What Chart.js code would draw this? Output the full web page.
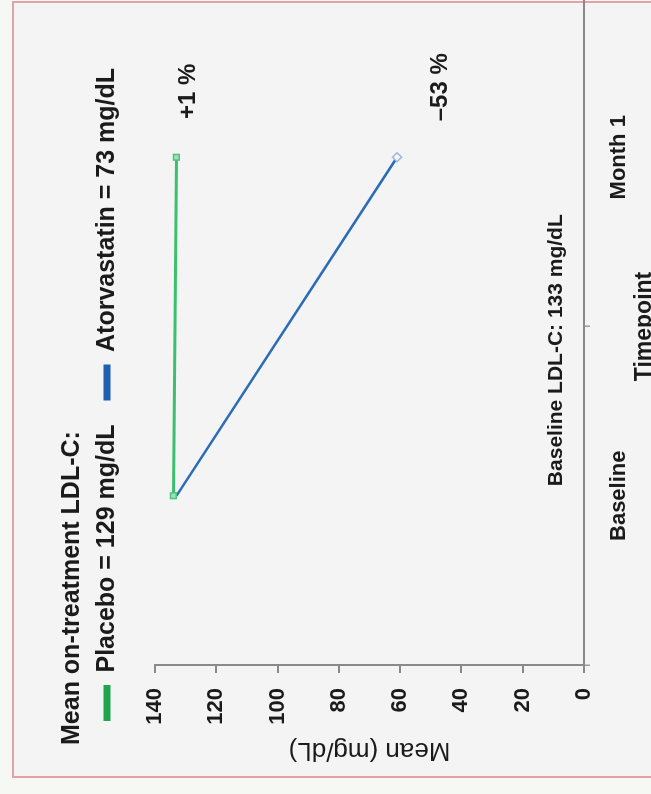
<!DOCTYPE html>
<html lang="en">
<head>
  <meta charset="utf-8">
  <title>Mean LDL-C by timepoint</title>
  <script src="https://cdn.jsdelivr.net/npm/chart.js@4.4.1/dist/chart.umd.min.js"></script>
  <style>
    html, body { margin: 0; padding: 0; width: 651px; height: 794px; overflow: hidden; background: #f6f8f3; }
    /* the figure is laid out landscape, then turned a quarter turn counter-clockwise */
    .turned { position: absolute; left: 0; top: 0; width: 812px; height: 680px;
              transform-origin: 0 0; transform: translateY(794px) rotate(-90deg); }
    .frame { position: absolute; left: 16px; top: 12px; width: 773px; height: 700px;
             border: 2px solid #e3a2a8; background: #f4f4f4; }
    canvas { position: absolute; left: 0; top: 0; }
  </style>
</head>
<body>
  <div class="turned">
    <div class="frame"></div>
    <canvas id="ldlChart" width="812" height="680"></canvas>
  </div>

  <script>
    var timepoints = ['Baseline', 'Month 1'];
    var seriesNames = ['Placebo = 129 mg/dL', 'Atorvastatin = 73 mg/dL'];
    var placeboLdl = [134, 133];
    var atorvastatinLdl = [133, 61];
    var changeLabels = ['+1 %', '\u201353 %'];
    var baselineNote = 'Baseline LDL-C: 133 mg/dL';

    var lineColors = ['#3cbf6e', '#2b6cb6'];
    var legendColors = ['#1fa64c', '#1f5fb2'];
    // where the % labels sit, relative to the Month 1 point
    var changeOffsets = [[66, 12], [70, 43]];

    Chart.defaults.font.family = '"Liberation Sans", Arial, sans-serif';
    Chart.defaults.color = '#1b1b1b';

    var notes = {
      id: 'notes',
      afterDatasetsDraw: function(chart) {
        var ctx = chart.ctx;
        ctx.save();
        ctx.fillStyle = '#1b1b1b';
        ctx.textAlign = 'center';
        ctx.textBaseline = 'middle';
        ctx.font = 'bold 24px "Liberation Sans", Arial, sans-serif';
        changeLabels.forEach(function(txt, i) {
          var pt = chart.getDatasetMeta(i).data[1];
          ctx.fillText(txt, pt.x + changeOffsets[i][0], pt.y + changeOffsets[i][1]);
        });
        ctx.font = 'bold 21px "Liberation Sans", Arial, sans-serif';
        ctx.fillText(baselineNote, chart.scales.x.getPixelForValue(0.43), chart.scales.y.getPixelForValue(9));
        ctx.restore();
      }
    };

    new Chart(document.getElementById('ldlChart').getContext('2d'), {
      type: 'line',
      plugins: [notes],
      data: {
        labels: timepoints,
        datasets: [
          {
            label: seriesNames[0],
            data: placeboLdl,
            xAxisID: 'x',
            yAxisID: 'y',
            borderColor: lineColors[0],
            backgroundColor: legendColors[0],
            borderWidth: 3,
            pointStyle: 'rect',
            pointRadius: 4,
            pointBackgroundColor: '#9fe0b8',
            pointBorderColor: '#4cc47c',
            pointBorderWidth: 1.5
          },
          {
            label: seriesNames[1],
            data: atorvastatinLdl,
            xAxisID: 'x',
            yAxisID: 'y',
            borderColor: lineColors[1],
            backgroundColor: legendColors[1],
            borderWidth: 2.5,
            pointStyle: ['rect', 'rectRot'],
            pointRadius: [0, 4.5],
            pointBackgroundColor: '#f4f7fb',
            pointBorderColor: '#9db9d8',
            pointBorderWidth: 1.5
          }
        ]
      },
      options: {
        responsive: false,
        animation: false,
        layout: { padding: { left: 49, top: 59.5, right: 6, bottom: 0 } },
        plugins: {
          tooltip: { enabled: false },
          legend: {
            position: 'top',
            align: 'start',
            labels: {
              boxWidth: 36,
              boxHeight: 7,
              padding: 24,
              font: { size: 25, weight: 'bold' },
              generateLabels: function(chart) {
                var items = Chart.defaults.plugins.legend.labels.generateLabels(chart);
                items.forEach(function(it, i) {
                  it.fillStyle = legendColors[i];
                  it.strokeStyle = legendColors[i];
                  it.lineWidth = 0;
                });
                return items;
              }
            },
            title: {
              display: true,
              text: 'Mean on-treatment LDL-C:',
              position: 'start',
              font: { size: 25, weight: 'bold' },
              padding: { top: 0, bottom: -19 }
            }
          }
        },
        scales: {
          x: {
            offset: true,
            grid: { display: true, offset: true, drawOnChartArea: false, tickLength: 6, color: '#9a9a9a', lineWidth: 1.5 },
            border: { display: true, color: '#8a8a8a', width: 2 },
            ticks: { padding: 16, font: { size: 22, weight: 'bold' } },
            title: { display: true, text: 'Timepoint', font: { size: 23, weight: 'bold' }, padding: { top: 0, bottom: 22 } },
            afterFit: function(s) { s.height = 96; }
          },
          y: {
            min: 0,
            max: 140,
            ticks: { stepSize: 20, padding: 15, font: { size: 22, weight: 'bold' } },
            grid: { display: true, drawOnChartArea: false, tickLength: 8, color: '#8a8a8a', lineWidth: 2 },
            border: { display: true, color: '#8a8a8a', width: 2 },
            title: { display: true, text: 'Mean (mg/dL)', font: { size: 26 }, padding: { top: -21, bottom: 0 } },
            afterFit: function(s) { s.width = 80; }
          },
          // empty strip between the legend and the plot
          gap: {
            type: 'category',
            position: 'top',
            display: true,
            grid: { display: false },
            border: { display: false },
            ticks: { display: false },
            afterFit: function(s) { s.height = 25.5; }
          }
        }
      }
    });
  </script>
</body>
</html>
